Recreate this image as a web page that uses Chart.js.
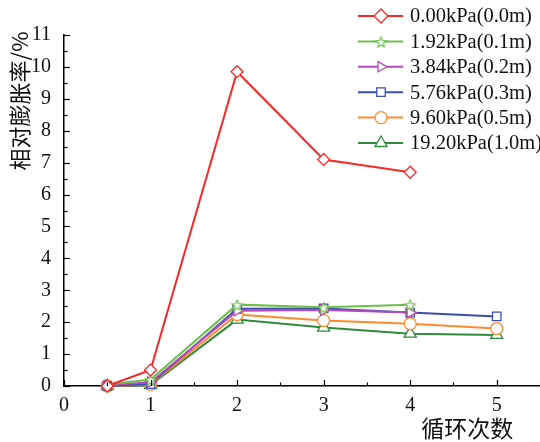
<!DOCTYPE html>
<html lang="zh">
<head>
<meta charset="UTF-8" />
<title>相对膨胀率</title>
<style>
  html, body { margin: 0; padding: 0; background: #fff; }
  #wrap { width: 540px; height: 442px; }
</style>
</head>
<body>
<div id="wrap"><canvas id="chart"></canvas></div>
<script src="https://cdn.jsdelivr.net/npm/chart.js"></script>
<script>
// 循环次数
const cycles = [0.5, 1, 2, 3, 4, 5];
// 各上覆荷载下的相对膨胀率(%)
const labels = ['0.00kPa(0.0m)', '1.92kPa(0.1m)', '3.84kPa(0.2m)', '5.76kPa(0.3m)', '9.60kPa(0.5m)', '19.20kPa(1.0m)'];
const s000 = [0, 0.5, 9.85, 7.1, 6.7];
const s192 = [0.05, 0.2, 2.55, 2.47, 2.55];
const s384 = [0.02, 0.12, 2.36, 2.38, 2.3];
const s576 = [0, 0.06, 2.42, 2.43, 2.3, 2.18];
const s960 = [0, 0.05, 2.24, 2.05, 1.95, 1.8];
const s1920 = [0, 0.03, 2.08, 1.83, 1.64, 1.6];
const yTicks = [0, 1, 2, 3, 4, 5, 6, 7, 8, 9, 10, 11];
const xTicks = [0, 1, 2, 3, 4, 5];

const colors = ['#f42a2a', '#6cc04a', '#b34cb8', '#3b4fae', '#ff8a2e', '#2f8a3c'];

// 五角星点样式（空心）
function makeStar(color, r) {
  const c = document.createElement('canvas');
  const size = r * 2 + 4;
  c.width = size; c.height = size;
  const g = c.getContext('2d');
  g.beginPath();
  for (let i = 0; i < 10; i++) {
    const rad = i % 2 === 0 ? r : r * 0.45;
    const a = -Math.PI / 2 + i * Math.PI / 5;
    const px = size / 2 + rad * Math.cos(a);
    const py = size / 2 + 1 + rad * Math.sin(a);
    i === 0 ? g.moveTo(px, py) : g.lineTo(px, py);
  }
  g.closePath();
  g.fillStyle = '#fff';
  g.fill();
  g.strokeStyle = color;
  g.lineWidth = 1.2;
  g.stroke();
  return c;
}

const star = makeStar(colors[1], 5.5);
const styles = [
  { pointStyle: 'rectRot', rotation: 0, radius: 6 },
  { pointStyle: star, rotation: 0, radius: 6 },
  { pointStyle: 'triangle', rotation: 90, radius: 6 },
  { pointStyle: 'rect', rotation: 0, radius: 6 },
  { pointStyle: 'circle', rotation: 0, radius: 6 },
  { pointStyle: 'triangle', rotation: 0, radius: 7 }
];
const seriesList = [s000, s192, s384, s576, s960, s1920];

const datasets = seriesList.map((s, i) => ({
  label: labels[i],
  data: s.map((v, j) => ({ x: cycles[j], y: v })),
  borderColor: colors[i],
  borderWidth: 2,
  backgroundColor: '#fff',
  pointBackgroundColor: '#fff',
  pointBorderColor: colors[i],
  pointBorderWidth: 1.3,
  pointStyle: styles[i].pointStyle,
  pointRotation: styles[i].rotation,
  pointRadius: styles[i].radius,
  tension: 0,
  clip: false
}));

// 内向刻度、坐标轴标题、图例
const decor = {
  id: 'decor',
  afterDraw(chart) {
    const ctx = chart.ctx;
    const xs = chart.scales.x, ys = chart.scales.y;
    const area = chart.chartArea;
    ctx.save();
    ctx.strokeStyle = '#000';
    ctx.lineWidth = 1.2;
    for (let v = 0; v <= 5.5001; v += 0.5) {
      const px = Math.round(xs.getPixelForValue(v)) + 0.5;
      const len = Number.isInteger(v) ? 6 : 3.5;
      ctx.beginPath();
      ctx.moveTo(px, area.bottom);
      ctx.lineTo(px, area.bottom - len);
      ctx.stroke();
    }
    for (let v = 0; v <= 11.0001; v += 0.5) {
      const py = Math.round(ys.getPixelForValue(v)) + 0.5;
      const len = Number.isInteger(v) ? 6 : 3.5;
      ctx.beginPath();
      ctx.moveTo(area.left, py);
      ctx.lineTo(area.left + len, py);
      ctx.stroke();
    }

    // 轴标题
    ctx.fillStyle = '#111';
    ctx.font = '22px "Noto Sans CJK SC"';
    ctx.textAlign = 'center';
    ctx.textBaseline = 'middle';
    ctx.save();
    ctx.translate(area.left - 44, area.top + 66);
    ctx.rotate(-Math.PI / 2);
    ctx.fillText('相对膨胀率/%', 0, 0);
    ctx.restore();
    ctx.font = '23px "Noto Sans CJK SC"';
    ctx.fillText('循环次数', xs.getPixelForValue(4.66), area.bottom + 42);

    // 图例
    const lx = 358, ly = 16, step = 25.4;
    ctx.font = '20.5px "Liberation Serif"';
    ctx.textAlign = 'left';
    chart.data.datasets.forEach((ds, i) => {
      const y = ly + i * step;
      ctx.strokeStyle = ds.borderColor;
      ctx.lineWidth = 2;
      ctx.beginPath();
      ctx.moveTo(lx, y);
      ctx.lineTo(lx + 45, y);
      ctx.stroke();
      ctx.lineWidth = 1.3;
      ctx.fillStyle = '#fff';
      Chart.helpers.drawPoint(ctx, {
        pointStyle: ds.pointStyle,
        rotation: ds.pointRotation,
        radius: i === 0 ? 7 : ds.pointRadius,
        borderWidth: 1.3
      }, lx + 23, y);
      ctx.fillStyle = '#111';
      ctx.fillText(ds.label, lx + 52, y + 1);
    });
    ctx.restore();
  }
};

new Chart(document.getElementById('chart'), {
  type: 'line',
  data: { datasets: datasets },
  plugins: [decor],
  options: {
    responsive: true,
    maintainAspectRatio: false,
    animation: false,
    layout: { autoPadding: false, padding: { top: 35, right: 0, left: 0, bottom: 0 } },
    plugins: { legend: { display: false }, tooltip: { enabled: false } },
    scales: {
      x: {
        type: 'linear',
        min: 0,
        max: 5.5,
        afterBuildTicks: s => { s.ticks = xTicks.map(v => ({ value: v })); },
        afterFit: s => { s.height = 56; s.paddingLeft = 0; s.paddingRight = 0; },
        grid: { color: 'rgba(0,0,0,0)', drawTicks: false },
        border: { display: true, color: '#000', width: 1.5 },
        ticks: { color: '#111', padding: 8, font: { family: 'Liberation Serif', size: 20 } }
      },
      y: {
        min: 0,
        max: 11,
        afterBuildTicks: s => { s.ticks = yTicks.map(v => ({ value: v })); },
        afterFit: s => { s.width = 64; s.paddingTop = 0; s.paddingBottom = 0; },
        grid: { color: 'rgba(0,0,0,0)', drawTicks: false },
        border: { display: true, color: '#000', width: 1.5 },
        ticks: { color: '#111', padding: 13, font: { family: 'Liberation Serif', size: 20 } }
      }
    }
  }
});
</script>
</body>
</html>
